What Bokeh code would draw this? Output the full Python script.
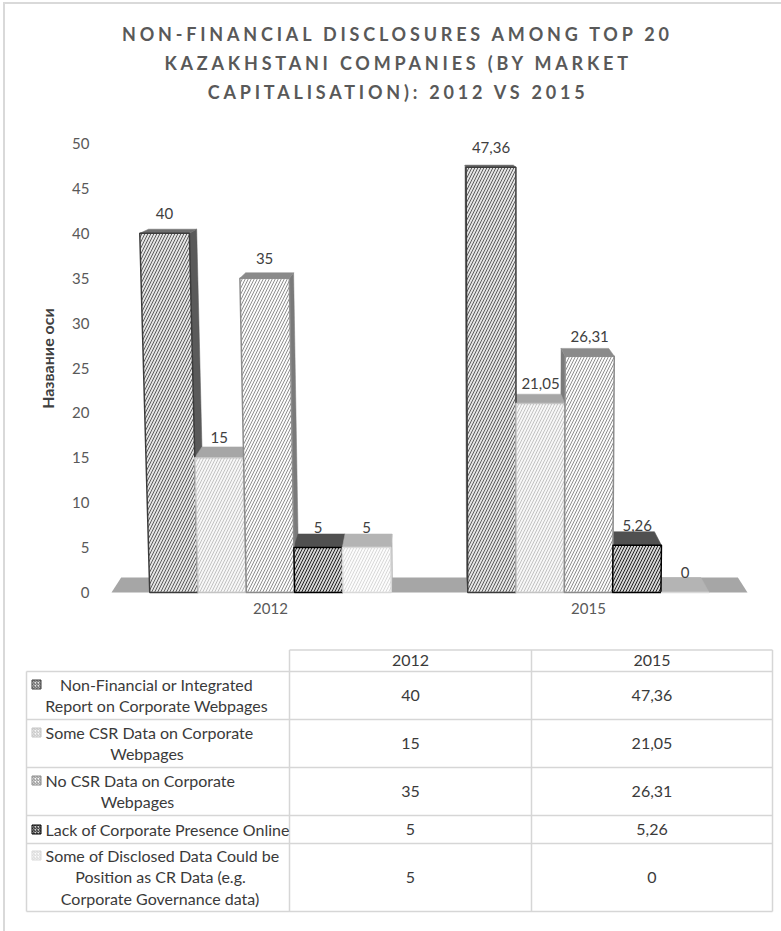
from bokeh.plotting import figure
from bokeh.models import Range1d, FixedTicker, LinearAxis, ColumnDataSource
from bokeh.layouts import column
from bokeh.embed import file_html
from bokeh.resources import INLINE
from bokeh.core.properties import value

# ---------------- data ----------------
categories = ["2012", "2015"]
series_names = [
    "Non-Financial or Integrated Report on Corporate Webpages",
    "Some CSR Data on Corporate Webpages",
    "No CSR Data on Corporate Webpages",
    "Lack of Corporate Presence Online",
    "Some of Disclosed Data Could be Position as CR Data (e.g. Corporate Governance data)",
]
values_2012 = [40, 15, 35, 5, 5]
values_2015 = [47.36, 21.05, 26.31, 5.26, 0]
y_ticks = [0, 5, 10, 15, 20, 25, 30, 35, 40, 45, 50]
title_lines = ["NON-FINANCIAL DISCLOSURES AMONG TOP 20",
               "KAZAKHSTANI COMPANIES (BY MARKET",
               "CAPITALISATION): 2012 VS 2015"]
axis_title = "Название оси"

# ---------------- styles ----------------
front_fill = ["#e4e4e4", "#f7f7f7", "#fbfbfb", "#d4d4d4", "#fcfcfc"]
front_hatch = ["#5c5c5c", "#c2c2c2", "#8e8e8e", "#222222", "#d8d8d8"]
front_line = ["#3c3c3c", "#c4c4c4", "#8c8c8c", "#000000", "#d9d9d9"]
top_fill = ["#6e6e6e", "#a6a6a6", "#8a8a8a", "#505050", "#b4b4b4"]
side_fill = ["#5a5a5a", "#a0a0a0", "#7a7a7a", "#3c3c3c", "#b0b0b0"]
FONT = "Lato"
LETTER_SP = 3.8   # title letter spacing (px)

def fmt(v):
    return f"{v:g}".replace(".", ",")

# page-pixel layout of the chart
SY = (592 - 143) / 50.0      # px per value unit
SX = 588 - 270               # px per category
X0, Y0 = 270, 592

def xd(X):
    return (X - X0) / SX

def yd(Y):
    return (Y0 - Y) / SY

BW = 48.3 / SX
LEAN_A = 7.5e-5
XC = xd(520)
T_D = 0.0303
VX, VY = xd(430), yd(97)

def lean_x(x, v):
    return x + LEAN_A * (x - XC) * v * SY

def back(pt):
    return (pt[0] + T_D * (VX - pt[0]), pt[1] + T_D * (VY - pt[1]))

# ---------------- title figure (page pixel coordinates) ----------------
tt = figure(width=776, height=114, output_backend="svg", toolbar_location=None,
            x_range=Range1d(20, 776), y_range=Range1d(118, 4),
            min_border_left=15, min_border_right=5, min_border_top=0, min_border_bottom=0,
            x_axis_type=None, y_axis_type=None,
            styles={"letter-spacing": f"{LETTER_SP}px"})
tt.outline_line_color = None
tt.background_fill_color = "white"
tt.border_fill_color = "white"
tt.text([398 - len(s) * LETTER_SP / 2 for s in title_lines], [33, 62, 91], title_lines,
        text_align="center", text_baseline="middle", text_font=value(FONT),
        text_font_size="18px", text_font_style="bold", text_color="#595959")

# ---------------- chart figure ----------------
p = figure(width=776, height=522, output_backend="svg", toolbar_location=None,
           x_range=Range1d(xd(20), xd(776)), y_range=Range1d(yd(598), yd(118)),
           min_border_left=15, min_border_right=5, min_border_top=0, min_border_bottom=42,
           x_axis_type=None, y_axis_type=None)
p.outline_line_color = None
p.background_fill_color = "white"
p.border_fill_color = "white"

all_vals = [values_2012, values_2015]
nser = len(series_names)

# floor
fl = [(-0.5, 0.0), (len(categories) - 0.5, 0.0)]
bfl = [back(q) for q in fl]
p.patch([fl[0][0], fl[1][0], bfl[1][0], bfl[0][0]],
        [fl[0][1], fl[1][1], bfl[1][1], bfl[0][1]],
        fill_color="#a6a6a6", line_color=None)

F = dict(xs=[], ys=[], fill=[], hatch=[], line=[])
T = dict(xs=[], ys=[], fill=[])
S = dict(xs=[], ys=[], fill=[])
L = dict(x=[], y=[], t=[])
for ci, vals in enumerate(all_vals):
    for si, v in enumerate(vals):
        xl = ci + (si - (nser - 1) / 2) * BW - BW / 2
        xr = xl + BW
        flb, frb = (xl, 0.0), (xr, 0.0)
        flt, frt = (lean_x(xl, v), v), (lean_x(xr, v), v)
        blt, brt, blb, brb = back(flt), back(frt), back(flb), back(frb)
        if brt[0] > frt[0]:
            poly = [frb, frt, brt, brb]
            S["xs"].append([q[0] for q in poly]); S["ys"].append([q[1] for q in poly])
            S["fill"].append(side_fill[si])
        if blt[0] < flt[0]:
            poly = [flb, flt, blt, blb]
            S["xs"].append([q[0] for q in poly]); S["ys"].append([q[1] for q in poly])
            S["fill"].append(side_fill[si])
        poly = [flt, frt, brt, blt]
        T["xs"].append([q[0] for q in poly]); T["ys"].append([q[1] for q in poly])
        T["fill"].append(top_fill[si])
        poly = [flb, frb, frt, flt]
        F["xs"].append([q[0] for q in poly]); F["ys"].append([q[1] for q in poly])
        F["fill"].append(front_fill[si]); F["hatch"].append(front_hatch[si])
        F["line"].append(front_line[si])
        L["x"].append((flt[0] + frt[0]) / 2); L["y"].append(v + 20 / SY); L["t"].append(fmt(v))

p.patches("xs", "ys", source=ColumnDataSource(S), fill_color="fill", line_color="fill",
          line_width=0.5)
p.patches("xs", "ys", source=ColumnDataSource(T), fill_color="fill", line_color="fill",
          line_width=0.5)
p.patches("xs", "ys", source=ColumnDataSource(F), fill_color="fill", line_color="line",
          line_width=1.5, hatch_pattern="/", hatch_color="hatch", hatch_scale=6,
          hatch_weight=1)
p.text("x", "y", "t", source=ColumnDataSource(L), text_align="center",
       text_baseline="alphabetic", text_font=value(FONT), text_font_size="15px",
       text_color="#404040")

yax = LinearAxis(ticker=FixedTicker(ticks=y_ticks), fixed_location=xd(100))
yax.axis_line_color = None
yax.major_tick_line_color = None
yax.minor_tick_line_color = None
yax.major_tick_in = 0
yax.major_tick_out = 0
yax.major_label_standoff = 11
yax.major_label_text_font = FONT
yax.major_label_text_font_size = "15px"
yax.major_label_text_color = "#595959"
yax.axis_label = axis_title
yax.axis_label_text_font = FONT
yax.axis_label_text_font_size = "16px"
yax.axis_label_text_font_style = "bold"
yax.axis_label_text_color = "#404040"
yax.axis_label_standoff = 12
p.add_layout(yax, "left")

xax = LinearAxis(ticker=FixedTicker(ticks=list(range(len(categories)))),
                 major_label_overrides={i: c for i, c in enumerate(categories)})
xax.axis_line_color = None
xax.major_tick_line_color = None
xax.minor_tick_line_color = None
xax.major_tick_in = 0
xax.major_tick_out = 0
xax.major_label_standoff = 4
xax.major_label_text_font = FONT
xax.major_label_text_font_size = "15px"
xax.major_label_text_color = "#595959"
p.add_layout(xax, "below")

# ---------------- data table figure (page pixel coordinates) ----------------
t = figure(width=776, height=291, output_backend="svg", toolbar_location=None,
           x_range=Range1d(20, 776), y_range=Range1d(931, 640),
           min_border_left=15, min_border_right=5, min_border_top=0, min_border_bottom=0,
           x_axis_type=None, y_axis_type=None)
t.outline_line_color = None
t.background_fill_color = "white"
t.border_fill_color = "white"

TL, TC1, TC2, TR = 26, 289, 531, 772
HT = 649.5
row_b = [671, 719, 767, 815, 843, 911]
x0s, y0s, x1s, y1s = [], [], [], []
x0s += [TC1]; y0s += [HT]; x1s += [TR]; y1s += [HT]
for yb in row_b:
    x0s.append(TL); y0s.append(yb); x1s.append(TR); y1s.append(yb)
x0s.append(TL); y0s.append(row_b[0]); x1s.append(TL); y1s.append(row_b[-1])
for xx in (TC1, TC2, TR):
    x0s.append(xx); y0s.append(HT); x1s.append(xx); y1s.append(row_b[-1])
t.segment(x0s, y0s, x1s, y1s, line_color="#d6d6d6", line_width=1.5)

col_cx = [(TC1 + TC2) / 2, (TC2 + TR) / 2]
hx, hy, ht = [], [], []
for k, c in enumerate(categories):
    hx.append(col_cx[k]); hy.append((HT + row_b[0]) / 2); ht.append(c)
for k, vals in enumerate(all_vals):
    for si, v in enumerate(vals):
        hx.append(col_cx[k]); hy.append((row_b[si] + row_b[si + 1]) / 2); ht.append(fmt(v))
t.text(hx, hy, ht, text_align="center", text_baseline="middle", text_font=value(FONT),
       text_font_size="16px", text_color="#3a3a3a")

wrap_breaks = [[3], [5], [5], [], [6, 11]]
line_y = [[684, 705], [732, 753], [780, 801], [829], [855, 876, 898]]
line_cx = [[156, 156], [None, 146.5], [None, 137], [None], [None, 160, 159.5]]
lx_l, ly_l, lt_l = [], [], []
lx_c, ly_c, lt_c = [], [], []
for si, name in enumerate(series_names):
    words = name.split(" ")
    cuts = [0] + wrap_breaks[si] + [len(words)]
    lines = [" ".join(words[cuts[j]:cuts[j + 1]]) for j in range(len(cuts) - 1)]
    for j, ln in enumerate(lines):
        if line_cx[si][j] is None:
            lx_l.append(45); ly_l.append(line_y[si][j]); lt_l.append(ln)
        else:
            lx_c.append(line_cx[si][j]); ly_c.append(line_y[si][j]); lt_c.append(ln)
t.text(lx_l, ly_l, lt_l, text_align="left", text_baseline="middle", text_font=value(FONT),
       text_font_size="16px", text_color="#3a3a3a")
t.text(lx_c, ly_c, lt_c, text_align="center", text_baseline="middle", text_font=value(FONT),
       text_font_size="16px", text_color="#3a3a3a")

t.rect([36] * nser, [line_y[si][0] for si in range(nser)], 9, 9,
       fill_color=front_fill, line_color=front_line, line_width=1,
       hatch_pattern="/", hatch_color=front_hatch, hatch_scale=3, hatch_weight=1)

layout = column(tt, p, t, spacing=0,
                styles={"margin-left": "3px", "margin-top": "2px",
                        "border-left": "2px solid #d9d9d9",
                        "border-top": "2px solid #d9d9d9"})

with open("out.html", "w") as f:
    f.write(file_html(layout, INLINE))
